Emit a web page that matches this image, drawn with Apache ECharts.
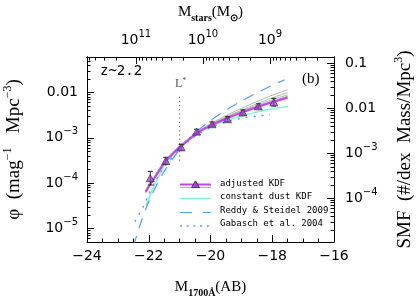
<!DOCTYPE html>
<html><head><meta charset="utf-8">
<script src="https://cdn.jsdelivr.net/npm/echarts@6/dist/echarts.min.js"></script>
<style>html,body{margin:0;padding:0;background:#fff}#c{width:416px;height:298px}</style>
</head><body><div id="c"></div>
<script>
// ---- data (log10 phi in mag^-1 Mpc^-3) ----
const kdfMag    = [-21.95, -21.45, -20.95, -20.45, -19.95, -19.45, -18.95, -18.45, -17.95];
const kdfLogPhi = [-3.89, -3.51, -3.21, -2.865, -2.70, -2.59, -2.44, -2.305, -2.215];
const kdfErr    = [0.15, 0.08, 0.065, 0.055, 0.05, 0.055, 0.055, 0.055, 0.085];

const curveMag  = [-22.1, -21.9, -21.7, -21.5, -21.25, -21.0, -20.75, -20.5, -20.25, -20.0, -19.5, -19.0, -18.5, -18.0, -17.5];
const adjusted  = [-4.19, -3.98, -3.77, -3.56, -3.37, -3.21, -3.07, -2.93, -2.82, -2.73, -2.58, -2.445, -2.325, -2.215, -2.11];
const gray1     = [-4.15, -3.93, -3.72, -3.52, -3.33, -3.17, -3.03, -2.90, -2.79, -2.69, -2.51, -2.35, -2.20, -2.06, -1.94];
const gray2     = [-4.17, -3.95, -3.74, -3.54, -3.35, -3.19, -3.05, -2.92, -2.81, -2.71, -2.54, -2.39, -2.25, -2.12, -2.00];
const gray3     = [-4.20, -3.97, -3.76, -3.55, -3.36, -3.20, -3.06, -2.93, -2.82, -2.72, -2.55, -2.41, -2.28, -2.16, -2.05];
const gray4     = [-4.22, -3.99, -3.78, -3.57, -3.37, -3.21, -3.07, -2.93, -2.82, -2.72, -2.56, -2.43, -2.30, -2.19, -2.08];
const constDust = [-4.50, -4.17, -3.88, -3.62, -3.40, -3.22, -3.07, -2.94, -2.83, -2.75, -2.62, -2.52, -2.43, -2.36, -2.31];

const reddyMag  = [-22.5, -22.25, -22.0, -21.75, -21.5, -21.0, -20.5, -20.0, -19.5, -19.0, -18.5, -18.0, -17.6];
const reddy     = [-5.40, -4.86, -4.41, -4.05, -3.74, -3.26, -2.90, -2.62, -2.39, -2.19, -2.01, -1.84, -1.72];

const gabMag    = [-22.45, -22.2, -22.0, -21.75, -21.5, -21.0, -20.5, -20.0, -19.5, -19.0, -18.5, -18.07];
const gabasch   = [-4.85, -4.55, -4.25, -3.92, -3.65, -3.25, -2.97, -2.78, -2.65, -2.57, -2.52, -2.49];

const lstarMag  = -21.0;
const lstarSpan = [-2.09, -3.53];

// ---- axes ----
const massTicks = [9, 10, 11];          // log10 Mstar
const phiTicks  = [-5, -4, -3, -2];     // log10 phi
const smfTicks  = [-4, -3, -2, -1];     // log10 SMF
const phiLabels = {'-5': '{b|10}{s|−5}', '-4': '{b|10}{s|−4}', '-3': '{b|10}{s|−3}', '-2': '{b|0.01}'};
const smfLabels = {'-4': '{b|10}{s|−4}', '-3': '{b|10}{s|−3}', '-2': '{b|0.01}', '-1': '{b|0.1}'};

function minorLog(lo, hi) {
  const out = [];
  for (let n = Math.floor(lo) - 1; n <= Math.ceil(hi); n++)
    for (let k = 1; k <= 9; k++) { const v = n + Math.log10(k); if (v > lo && v < hi) out.push(v); }
  return out;
}

const PHI_MIN = -5.30, PHI_MAX = -1.216;
const SMF_MIN = -4.97, SMF_MAX = -0.86;
const MASS_MIN = 8.045, MASS_MAX = 11.73;

const SANS = 'DejaVu Sans';
const SERIF = 'Liberation Serif';
const MONO = 'DejaVu Sans Mono';
const line = {show: true, lineStyle: {color: '#000', width: 1}};
const supRich = {
  b: {fontFamily: SANS, fontSize: 14, color: '#000', lineHeight: 22},
  s: {fontFamily: SANS, fontSize: 10, color: '#000', lineHeight: 10, verticalAlign: 'top'}
};
const hNameRich = {
  b: {fontFamily: SERIF, fontSize: 15, color: '#000', lineHeight: 22},
  d: {fontFamily: SERIF, fontSize: 10, fontWeight: 'bold', color: '#000', lineHeight: 10, verticalAlign: 'bottom'}
};
const vNameRich = {
  b: {fontFamily: SERIF, fontSize: 19, color: '#000', lineHeight: 24},
  s: {fontFamily: SERIF, fontSize: 12, color: '#000', lineHeight: 12, verticalAlign: 'top'}
};

// main axis: labels at majors, short ticks at every log step
function mainAxis(pos, min, max, majors, fmt, margin, extra) {
  return Object.assign({
    type: 'value', position: pos, min, max,
    axisLine: line, splitLine: {show: false},
    axisTick: {show: true, inside: true, length: 3.5, customValues: minorLog(min, max), lineStyle: {color: '#000'}},
    axisLabel: {show: true, customValues: majors, margin, rich: supRich, formatter: fmt}
  }, extra);
}
// companion axis: longer ticks at majors only
function majorAxis(pos, min, max, majors, extra) {
  return Object.assign({
    type: 'value', position: pos, min, max, splitLine: {show: false},
    axisLine: {show: true, lineStyle: {color: '#000', width: 1}},
    axisTick: {show: true, inside: true, length: 7, customValues: majors, lineStyle: {color: '#000'}},
    axisLabel: {show: false}
  }, extra);
}

const chart = echarts.init(document.getElementById('c'), null, {renderer: 'canvas'});
const toPairs = (xs, ys) => xs.map((x, i) => [x, ys[i]]);

const curve = (name, xs, ys, style, z) => ({
  name, type: 'line', data: toPairs(xs, ys), showSymbol: false, symbol: 'none',
  smooth: 0.3, lineStyle: style, z: z || 2, clip: true, silent: true
});

chart.setOption({
  animation: false,
  backgroundColor: '#fff',
  grid: {left: 87, right: 82, top: 57, bottom: 56, containLabel: false, outerBoundsMode: 'none'},
  xAxis: [
    { type: 'value', position: 'bottom', min: -24, max: -16, interval: 2,
      axisLine: line, splitLine: {show: false},
      axisTick: {inside: true, length: 7, lineStyle: {color: '#000'}},
      minorTick: {show: true, splitNumber: 4, length: 3.5, lineStyle: {color: '#000'}},
      axisLabel: {fontFamily: SANS, fontSize: 14, color: '#000', margin: 7,
        formatter: v => (v < 0 ? '−' + Math.abs(v) : String(v))},
      name: '{b|M}{d|1700Å}{b|(AB)}', nameLocation: 'middle', nameGap: 34,
      nameTextStyle: {rich: hNameRich}
    },
    mainAxis('top', MASS_MIN, MASS_MAX, massTicks, v => '{b|10}{s|' + Math.round(v) + '}', 6,
      {inverse: true, name: '{b|M}{d|stars}{b|(M}{d|⊙}{b|)}', nameLocation: 'middle', nameGap: 34,
       nameTextStyle: {rich: hNameRich}}),
    majorAxis('top', MASS_MIN, MASS_MAX, massTicks, {inverse: true})
  ],
  yAxis: [
    mainAxis('left', PHI_MIN, PHI_MAX, phiTicks, v => phiLabels[String(Math.round(v))], 9,
      {name: '{b|φ  (mag}{s|−1}{b|   Mpc}{s|−3}{b|)}', nameLocation: 'middle', nameGap: 61,
       nameTextStyle: {rich: vNameRich}}),
    majorAxis('left', PHI_MIN, PHI_MAX, phiTicks, {}),
    mainAxis('right', SMF_MIN, SMF_MAX, smfTicks, v => smfLabels[String(Math.round(v))], 11,
      {name: '{b|SMF  (#/dex  Mass/Mpc}{s|3}{b|)}', nameLocation: 'middle', nameGap: 59,
       nameTextStyle: {rich: vNameRich}}),
    majorAxis('right', SMF_MIN, SMF_MAX, smfTicks, {})
  ],
  series: [
    curve('gray1', curveMag, gray1, {color: '#b4b4b4', width: 1}),
    curve('gray2', curveMag, gray2, {color: '#b4b4b4', width: 1}),
    curve('gray3', curveMag, gray3, {color: '#b4b4b4', width: 1}),
    curve('gray4', curveMag, gray4, {color: '#b4b4b4', width: 1}),
    curve('constant dust KDF', curveMag, constDust, {color: '#86f5dc', width: 1.6}),
    curve('Reddy & Steidel 2009', reddyMag, reddy, {color: '#5b9bf5', width: 1.2, type: [11, 8]}),
    curve('Gabasch et al. 2004', gabMag, gabasch, {color: '#5b9bf5', width: 1.4, type: [2, 6]}),
    curve('adjusted KDF', curveMag, adjusted, {color: '#c243f2', width: 2}, 4),
    { name: 'L*', type: 'line', data: [[lstarMag, lstarSpan[0]], [lstarMag, lstarSpan[1]]],
      showSymbol: false, symbol: 'none', lineStyle: {color: '#666', width: 1, type: [1.2, 3]}, z: 1 },
    { name: 'errors', type: 'custom', z: 5,
      data: kdfMag.map((m, i) => [m, kdfLogPhi[i] - kdfErr[i], kdfLogPhi[i] + kdfErr[i]]),
      renderItem: (params, api) => {
        const x = api.value(0);
        const p1 = api.coord([x, api.value(2)]);
        const p2 = api.coord([x, api.value(1)]);
        const w = 2.5, st = {stroke: '#222', lineWidth: 1};
        return {type: 'group', children: [
          {type: 'line', shape: {x1: p1[0], y1: p1[1], x2: p2[0], y2: p2[1]}, style: st},
          {type: 'line', shape: {x1: p1[0] - w, y1: p1[1], x2: p1[0] + w, y2: p1[1]}, style: st},
          {type: 'line', shape: {x1: p2[0] - w, y1: p2[1], x2: p2[0] + w, y2: p2[1]}, style: st}
        ]};
      }
    },
    { name: 'adjusted KDF points', type: 'scatter', z: 6, symbol: 'triangle', symbolSize: [8, 7],
      data: toPairs(kdfMag, kdfLogPhi),
      itemStyle: {color: '#a846d6', borderColor: '#2a2a2a', borderWidth: 0.8} }
  ],
  graphic: [
    {type: 'text', left: 100, top: 64, style: {text: 'z~2.2', fontFamily: MONO, fontSize: 14, fill: '#000'}},
    {type: 'text', left: 302, top: 72, style: {text: '(b)', fontFamily: SERIF, fontSize: 15, fill: '#000'}},
    {type: 'text', left: 175, top: 77, style: {text: '{l|L}{t|*}', rich: {
      l: {fontFamily: SERIF, fontSize: 12, fill: '#555', lineHeight: 14},
      t: {fontFamily: SERIF, fontSize: 8, fill: '#555', lineHeight: 8, verticalAlign: 'top'}}}},
    // legend
    {type: 'line', shape: {x1: 180, y1: 187.5, x2: 211, y2: 187.5}, style: {stroke: '#b4b4b4', lineWidth: 1}},
    {type: 'line', shape: {x1: 180, y1: 184.5, x2: 211, y2: 184.5}, style: {stroke: '#c243f2', lineWidth: 2}},
    {type: 'polygon', shape: {points: [[195.5, 180.8], [199.5, 187.6], [191.5, 187.6]]}, style: {fill: '#a846d6', stroke: '#2a2a2a', lineWidth: 0.8}},
    {type: 'text', left: 220, top: 179, style: {text: 'adjusted KDF', fontFamily: MONO, fontSize: 9, fill: '#000'}},
    {type: 'line', shape: {x1: 180, y1: 198.5, x2: 211, y2: 198.5}, style: {stroke: '#86f5dc', lineWidth: 1.6}},
    {type: 'text', left: 220, top: 192, style: {text: 'constant dust KDF', fontFamily: MONO, fontSize: 9, fill: '#000'}},
    {type: 'line', shape: {x1: 180, y1: 212.5, x2: 211, y2: 212.5}, style: {stroke: '#5b9bf5', lineWidth: 1.2, lineDash: [12, 11]}},
    {type: 'text', left: 220, top: 206, style: {text: 'Reddy & Steidel 2009', fontFamily: MONO, fontSize: 9, fill: '#000'}},
    {type: 'line', shape: {x1: 180, y1: 226, x2: 211, y2: 226}, style: {stroke: '#5b9bf5', lineWidth: 1.4, lineDash: [2, 4.7]}},
    {type: 'text', left: 220, top: 219.5, style: {text: 'Gabasch et al. 2004', fontFamily: MONO, fontSize: 9, fill: '#000'}}
  ]
});
</script>
</body></html>
